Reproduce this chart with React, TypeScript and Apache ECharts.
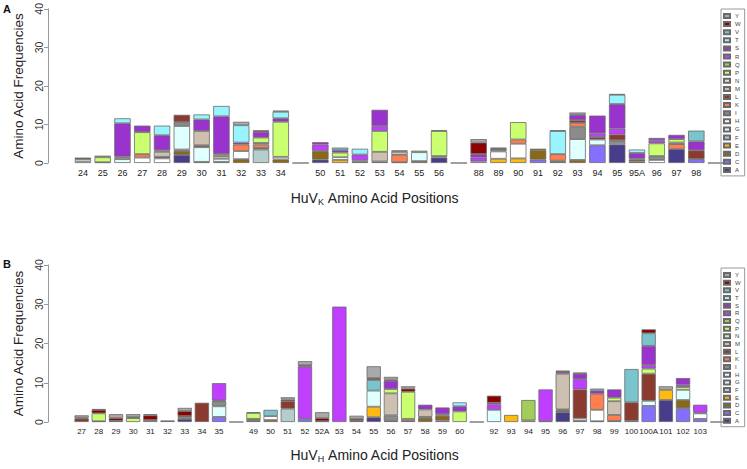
import React, { useEffect, useRef } from 'react';
import * as echarts from 'echarts';

// Amino acids, stacked from bottom (A) to top (Y)
const aminoAcids = ['A', 'C', 'D', 'E', 'F', 'G', 'H', 'I', 'K', 'L', 'M', 'N', 'P', 'Q', 'R', 'S', 'T', 'V', 'W', 'Y'];
const aaColors = ['#483D8B', '#8470FF', '#8B6914', '#FFB90F', '#B4CDCD', '#E0FFFF', '#FFFFFF', '#8B8B8B', '#FF7F50', '#8B3A2F',
  '#CDC0B0', '#E3E3D0', '#CAFF70', '#A2CD5A', '#BF3EFF', '#9A32CD', '#98F5FF', '#7AC5CD', '#8B0000', '#A9A9A9'];

const yTicks = [0, 10, 20, 30, 40];

// Panel A: HuVK positions ('' = empty slot)
const vkCategories = ['24', '25', '26', '27', '28', '29', '30', '31', '32', '33', '34', '',
  '50', '51', '52', '53', '54', '55', '56', '',
  '88', '89', '90', '91', '92', '93', '94', '95', '95A', '96', '97', '98', ''];

const vkStacks: Record<string, number>[] = [
  { G: 0.4, H: 0.6, W: 0.4 },
  { D: 0.2, P: 1.3, Q: 0.4 },
  { G: 1.0, H: 0.4, R: 0.3, S: 8.6, T: 1.3 },
  { H: 1.4, K: 0.9, P: 5.7, S: 1.7 },
  { H: 1.2, L: 0.4, M: 1.3, N: 0.4, S: 3.9, T: 2.5 },
  { A: 2.1, D: 1.0, F: 0.4, G: 6.1, I: 1.0, L: 1.9 },
  { A: 0.3, G: 3.8, L: 0.5, M: 3.7, S: 3.0, T: 1.3 },
  { D: 0.3, G: 0.8, M: 0.7, P: 0.5, S: 9.8, T: 2.7 },
  { D: 1.0, H: 2.1, K: 1.7, S: 0.5, T: 4.5, Y: 0.9 },
  { F: 3.5, I: 0.4, K: 0.9, M: 0.4, P: 1.4, S: 1.5, W: 0.4 },
  { D: 0.9, N: 0.7, P: 9.1, S: 0.9, T: 1.7, Y: 0.3 },
  {},
  { A: 0.9, D: 2.2, R: 1.7, S: 0.6 },
  { E: 0.8, H: 0.7, P: 1.2, S: 0.6, V: 0.7 },
  { A: 0.3, H: 0.4, R: 1.5, T: 1.5 },
  { A: 0.4, M: 2.5, P: 5.4, R: 1.3, S: 4.2 },
  { D: 0.2, K: 1.9, M: 0.8, Y: 0.4 },
  { D: 0.5, G: 2.3, P: 0.4 },
  { A: 1.4, M: 0.4, P: 6.5, Q: 0.2 },
  {},
  { H: 0.4, R: 1.0, S: 0.9, W: 3.0, Y: 0.9 },
  { E: 1.1, H: 1.9, M: 0.4, S: 0.3, W: 0.3 },
  { E: 1.2, H: 3.8, K: 1.1, P: 4.5 },
  { C: 0.9, D: 2.4, L: 0.4 },
  { D: 0.3, H: 0.3, K: 1.7, T: 6.0, Y: 0.2 },
  { D: 0.8, G: 5.4, I: 3.2, K: 1.0, L: 0.7, S: 1.4, Y: 0.6 },
  { C: 4.6, G: 1.5, L: 0.6, R: 1.0, S: 4.6 },
  { A: 4.8, F: 0.5, I: 0.6, L: 1.5, R: 1.5, S: 6.4, T: 2.4, W: 0.2 },
  { A: 0.4, D: 0.5, M: 0.3, S: 1.4, T: 0.9 },
  { H: 0.8, I: 1.0, P: 3.3, R: 0.8, S: 0.6 },
  { A: 3.6, K: 1.3, M: 0.4, P: 0.9, S: 1.1 },
  { C: 1.0, L: 2.3, S: 2.3, V: 2.8 },
  {},
];

// Panel B: HuVH positions
const vhCategories = ['27', '28', '29', '30', '31', '32', '33', '34', '35', '',
  '49', '50', '51', '52', '52A', '53', '54', '55', '56', '57', '58', '59', '60', '',
  '92', '93', '94', '95', '96', '97', '98', '99', '100', '100A', '101', '102', '103', ''];

const vhStacks: Record<string, number>[] = [
  { L: 0.9, W: 0.2, Y: 0.6 },
  { D: 0.2, P: 2.0, W: 0.9, Y: 0.2 },
  { L: 0.3, W: 0.7, Y: 1.0 },
  { P: 1.0, W: 0.2, Y: 0.8 },
  { I: 0.5, W: 1.2, Y: 0.3 },
  { S: 0.4 },
  { A: 0.8, E: 0.4, L: 0.3, W: 1.3, Y: 0.8 },
  { L: 4.9 },
  { C: 1.3, G: 2.7, I: 1.3, L: 0.2, R: 4.4 },
  {},
  { A: 0.3, D: 0.5, P: 1.5, Y: 0.2 },
  { D: 0.5, H: 1.0, V: 1.6 },
  { F: 3.4, L: 1.9, W: 0.4, Y: 0.6 },
  { C: 0.8, R: 13.3, W: 0.4, Y: 1.0 },
  { A: 0.2, W: 0.8, Y: 1.5 },
  { R: 29.4 },
  { L: 0.3, W: 0.5, Y: 0.8 },
  { A: 1.2, E: 2.7, G: 4.1, V: 2.7, W: 0.5, Y: 3.0 },
  { A: 0.3, I: 1.4, M: 5.6, P: 1.1, S: 2.1, W: 0.3, Y: 0.7 },
  { D: 0.3, K: 0.5, P: 6.9, W: 0.8, Y: 0.6 },
  { D: 1.0, H: 0.3, M: 1.9, S: 1.2 },
  { C: 0.4, D: 1.2, M: 0.4, S: 1.7 },
  { P: 2.7, S: 1.3, T: 1.0 },
  {},
  { G: 3.1, R: 1.4, S: 0.4, W: 1.8 },
  { E: 1.8 },
  { E: 0.4, Q: 5.2 },
  { A: 0.2, R: 8.1 },
  { A: 2.5, D: 0.5, I: 0.2, M: 9.1, S: 0.5, W: 0.3 },
  { A: 0.3, H: 0.6, L: 7.4, R: 2.6, S: 1.4, W: 0.3 },
  { A: 0.2, H: 2.9, K: 4.1, S: 0.8, V: 0.5 },
  { A: 0.3, K: 1.5, M: 3.5, P: 0.9, S: 2.1 },
  { C: 0.3, L: 4.7, V: 8.5 },
  { C: 4.1, G: 1.3, L: 6.9, P: 1.3, R: 0.9, S: 4.9, V: 3.2, W: 1.0 },
  { A: 5.6, E: 2.6, Y: 0.9 },
  { C: 3.5, D: 2.1, G: 2.6, P: 0.7, R: 0.6, S: 1.7 },
  { C: 0.8, H: 1.4, L: 0.2, R: 2.0 },
  {},
];

const FONT = '"Liberation Sans", Arial, sans-serif';

function buildSeries(stacks: Record<string, number>[], idx: number) {
  return aminoAcids.map((aa, i) => ({
    name: aa,
    type: 'bar',
    xAxisIndex: idx,
    yAxisIndex: idx,
    stack: 'panel' + idx,
    barCategoryGap: '17%',
    silent: true,
    itemStyle: { color: aaColors[i], borderColor: '#6a6a6a', borderWidth: 0.8 },
    data: stacks.map((s) =>
      s[aa] !== undefined ? s[aa] : aa === 'A' && Object.keys(s).length === 0 ? 0 : '-'
    ),
  }));
}

export default function App() {
  const ref = useRef<HTMLDivElement>(null);
  useEffect(() => {
    document.body.style.margin = '0';
    if (!ref.current) return;
    const chart = echarts.init(ref.current, undefined, { renderer: 'svg' });
    const grids = [
      { left: 73, top: 6, width: 653, height: 157 },
      { left: 73, top: 265, width: 653, height: 157 },
    ];
    const cats = [vkCategories, vhCategories];
    chart.setOption({
      animation: false,
      textStyle: { fontFamily: FONT },
      grid: grids,
      xAxis: cats.map((c, i) => ({
        type: 'category',
        gridIndex: i,
        data: c,
        axisLine: { show: false },
        axisTick: { show: false },
        axisLabel: { interval: 0, fontSize: i === 0 ? 9 : 8, color: '#222', margin: 5, fontFamily: FONT },
      })),
      yAxis: [0, 1].map((i) => ({
        type: 'value',
        gridIndex: i,
        min: yTicks[0],
        max: yTicks[yTicks.length - 1],
        interval: 10,
        offset: 25,
        splitLine: { show: false },
        axisLine: { show: true, lineStyle: { color: '#999', width: 1 } },
        axisTick: { show: true, length: 4, lineStyle: { color: '#999' } },
        axisLabel: { rotate: 90, fontSize: 10.5, color: '#333', margin: 4, fontFamily: FONT },
        name: 'Amino Acid Frequencies',
        nameLocation: 'middle',
        nameGap: 20,
        nameTextStyle: { fontSize: 13.5, color: '#222', fontFamily: FONT },
      })),
      legend: [0, 1].map((i) => ({
        data: [...aminoAcids].reverse(),
        orient: 'vertical',
        left: 721,
        top: i === 0 ? 9 : 268,
        itemWidth: 6,
        itemHeight: 4,
        itemGap: i === 0 ? 2.1 : 1.67,
        padding: [4, 4, 3, 2],
        borderColor: '#999',
        borderWidth: 1,
        selectedMode: false,
        icon: 'rect',
        textStyle: { fontSize: 6, lineHeight: 5, color: '#444', fontFamily: FONT },
      })),
      graphic: [
        { type: 'text', x: 3, y: 3, style: { text: 'A', font: `bold 11px ${FONT}`, fill: '#111' } },
        { type: 'text', x: 3, y: 258, style: { text: 'B', font: `bold 11px ${FONT}`, fill: '#111' } },
        {
          type: 'text', x: 375, y: 198,
          style: {
            text: '{m|HuV}{s|K}{m| Amino Acid Positions}',
            align: 'center', verticalAlign: 'middle',
            rich: {
              m: { fontSize: 14, fill: '#222', fontFamily: FONT },
              s: { fontSize: 9, fill: '#222', fontFamily: FONT, padding: [8, 0, 0, 0] },
            },
          },
        },
        {
          type: 'text', x: 375, y: 455,
          style: {
            text: '{m|HuV}{s|H}{m| Amino Acid Positions}',
            align: 'center', verticalAlign: 'middle',
            rich: {
              m: { fontSize: 14, fill: '#222', fontFamily: FONT },
              s: { fontSize: 9, fill: '#222', fontFamily: FONT, padding: [8, 0, 0, 0] },
            },
          },
        },
      ],
      series: [...buildSeries(vkStacks, 0), ...buildSeries(vhStacks, 1)],
    });
    return () => chart.dispose();
  }, []);
  return <div ref={ref} style={{ width: 747, height: 469 }} />;
}
